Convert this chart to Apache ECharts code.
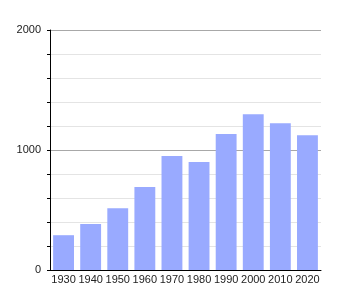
<!DOCTYPE html>
<html><head><meta charset="utf-8">
<script src="https://cdn.jsdelivr.net/npm/echarts@6/dist/echarts.min.js"></script>
<style>html,body{margin:0;padding:0;background:#fff}#c{width:350px;height:300px}</style>
</head><body><div id="c"></div>
<script>
const years = ['1930','1940','1950','1960','1970','1980','1990','2000','2010','2020'];
const population = [290, 383, 514, 692, 950, 900, 1133, 1297, 1222, 1122];
const yTicks = [0, 1000, 2000];

const chart = echarts.init(document.getElementById('c'), null, {renderer:'canvas'});
chart.setOption({
  animation:false,
  grid:{left:50, right:29, top:30, bottom:30},
  xAxis:{
    type:'category', data:years, boundaryGap:true,
    axisLine:{lineStyle:{color:'#000', width:1}},
    axisTick:{show:false},
    axisLabel:{color:'#222', fontSize:11, fontFamily:'Liberation Sans, Arial, sans-serif', margin:4, interval:0}
  },
  yAxis:{
    type:'value', min:0, max:2000, interval:200,
    axisLine:{show:true, lineStyle:{color:'#000', width:1}},
    axisTick:{show:true, length:3, inside:false, lineStyle:{color:'#000'}},
    axisLabel:{color:'#222', fontSize:11, fontFamily:'Liberation Sans, Arial, sans-serif', margin:9,
      formatter:v => yTicks.includes(v) ? String(v) : ''},
    splitLine:{show:true, lineStyle:{color:['#a8a8a8','#e4e4e4','#e4e4e4','#e4e4e4','#e4e4e4'], width:1}}
  },
  series:[{
    type:'bar', data:population, barCategoryGap:'23%',
    itemStyle:{color:'#99aaff'}
  }]
});
</script></body></html>
